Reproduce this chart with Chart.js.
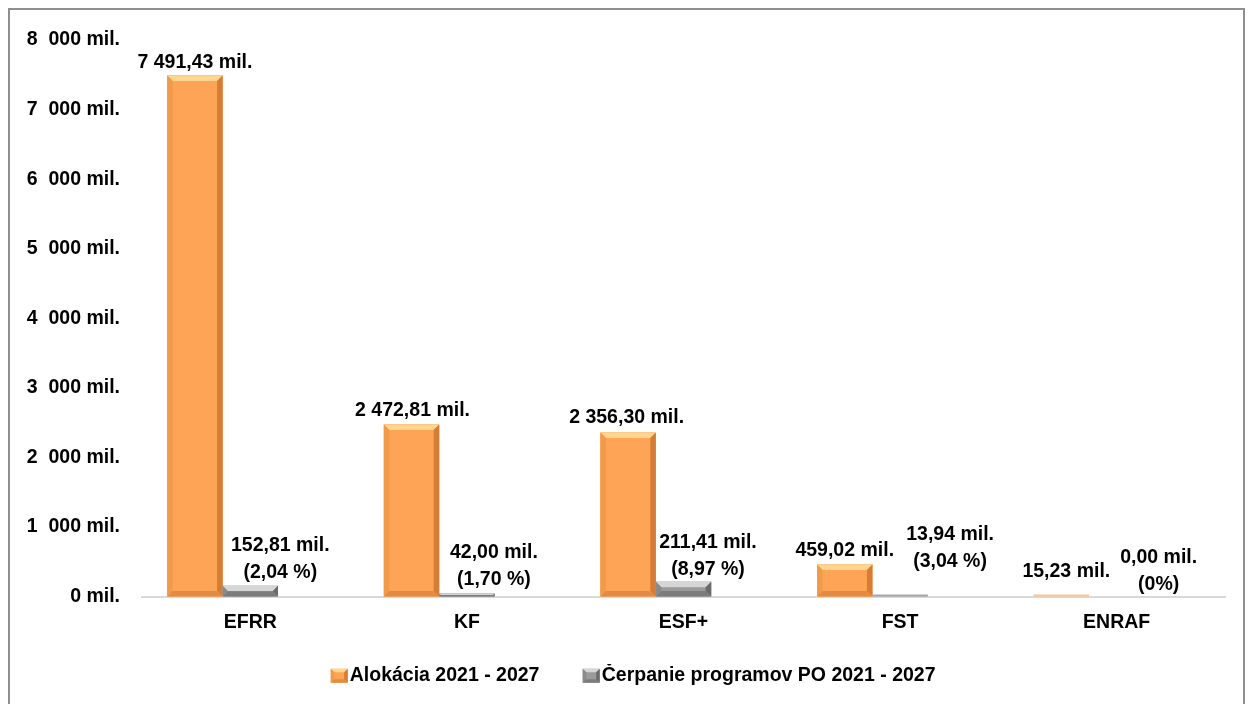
<!DOCTYPE html>
<html><head><meta charset="utf-8">
<script src="https://cdn.jsdelivr.net/npm/chart.js@4"></script>
<style>
html,body{margin:0;padding:0;background:#fff;}
#wrap{position:relative;width:1252px;height:704px;overflow:hidden;}
#frame{position:absolute;left:8px;top:8px;width:1233px;height:760px;border:2px solid #8f8f8f;pointer-events:none;}
canvas{position:absolute;left:0;top:0;}
</style></head><body>
<div id="wrap"><canvas id="c" width="1252" height="704"></canvas><div id="frame"></div></div>
<script>
// ---- data ----
const categories = ['EFRR', 'KF', 'ESF+', 'FST', 'ENRAF'];
const allocation = [7491.43, 2472.81, 2356.30, 459.02, 15.23];
const drawdown = [152.81, 42.00, 211.41, 13.94, 0.00];
const drawdownPct = [2.04, 1.70, 8.97, 3.04, 0];
const seriesNames = ['Alokácia 2021 - 2027', 'Čerpanie programov PO 2021 - 2027'];
const yTickLabels = ['0 mil.', '1  000 mil.', '2  000 mil.', '3  000 mil.', '4  000 mil.', '5  000 mil.', '6  000 mil.', '7  000 mil.', '8  000 mil.'];

// ---- label placement tweaks (style, not data) ----
const allocNudge = [[0,-13],[1,-14],[-1.5,-15],[0,-14],[5,-24]];
const drawNudge = [[30,-13],[27,-14],[24.5,-12],[50,-34],[42,-12]];

function hasFont(name){
  const c = document.createElement('canvas').getContext('2d');
  const t = 'mmmmmwwwwwlliiI 0123456789,.';
  let diff = false;
  for (const base of ['monospace','serif']) {
    c.font = 'bold 40px ' + base; const a = c.measureText(t).width;
    c.font = 'bold 40px "' + name + '", ' + base; const b = c.measureText(t).width;
    if (Math.abs(a-b) > 0.5) diff = true;
  }
  return diff;
}
const narrow = hasFont('Liberation Sans Narrow') ? '"Liberation Sans Narrow"' : (hasFont('Arial Narrow') ? '"Arial Narrow"' : null);
const FF = narrow ? narrow + ', "Liberation Sans", Arial, sans-serif' : '"Liberation Sans", Arial, sans-serif';
const FS = narrow ? 23.5 : 19.5;
const FONT = {family: FF, size: FS, weight: 'bold'};

const palette = {
  orange: {face:'#FDA456', top:'#FFD690', left:'#F29A4B', right:'#D57C36', bottom:'#E38B42'},
  gray:   {face:'#9A9A9A', top:'#D6D6D6', left:'#8A8A8A', right:'#6A6A6A', bottom:'#7C7C7C'}
};

function fmtNum(v){
  const s = v.toFixed(2).split('.');
  const int = s[0].replace(/\B(?=(\d{3})+(?!\d))/g, ' ');
  return int + ',' + s[1];
}

function bevel(ctx, L, T, R, B, col){
  const w = R - L, h = B - T;
  if (h < 1 || w < 1) return;
  const b = Math.min(5.5, h/2, w/2);
  ctx.save();
  const poly = (pts, c) => { ctx.beginPath(); ctx.moveTo(pts[0][0], pts[0][1]); for (let i=1;i<pts.length;i++) ctx.lineTo(pts[i][0], pts[i][1]); ctx.closePath(); ctx.fillStyle = c; ctx.fill(); };
  ctx.fillStyle = col.face; ctx.fillRect(L, T, w, h);
  poly([[L,T],[R,T],[R-b,T+b],[L+b,T+b]], col.top);
  poly([[L,T],[L+b,T+b],[L+b,B-b],[L,B]], col.left);
  poly([[R,T],[R,B],[R-b,B-b],[R-b,T+b]], col.right);
  poly([[L,B],[L+b,B-b],[R-b,B-b],[R,B]], col.bottom);
  ctx.restore();
}

const bevelPlugin = {
  id: 'bevel',
  afterDatasetsDraw(chart){
    const ctx = chart.ctx;
    [0,1].forEach(di => {
      const meta = chart.getDatasetMeta(di);
      const col = di === 0 ? palette.orange : palette.gray;
      meta.data.forEach(el => {
        const p = el.getProps(['x','y','base','width'], true);
        const L = p.x - p.width/2, R = p.x + p.width/2;
        const T = Math.min(p.y, p.base), B = Math.max(p.y, p.base);
        if (B - T < 1.5) {
          if (B - T > 0.2) { ctx.fillStyle = di === 0 ? '#F6C79C' : '#A8A8A8'; ctx.fillRect(L, B - 2, R - L, 2); }
          return;
        }
        bevel(ctx, L, T, R, B, col);
      });
    });
    // data labels
    ctx.save();
    ctx.font = 'bold ' + FS + 'px ' + FF;
    ctx.fillStyle = '#000';
    ctx.textAlign = 'center';
    ctx.textBaseline = 'middle';
    const m0 = chart.getDatasetMeta(0), m1 = chart.getDatasetMeta(1);
    m0.data.forEach((el, i) => {
      const p = el.getProps(['x','y'], true);
      ctx.fillText(fmtNum(allocation[i]) + ' mil.', p.x + allocNudge[i][0], p.y + allocNudge[i][1]);
    });
    m1.data.forEach((el, i) => {
      const p = el.getProps(['x','y'], true);
      const x = p.x + drawNudge[i][0], y2 = p.y + drawNudge[i][1];
      const pct = drawdownPct[i] === 0 ? '(0%)' : '(' + drawdownPct[i].toFixed(2).replace('.', ',') + ' %)';
      ctx.fillText(fmtNum(drawdown[i]) + ' mil.', x, y2 - 27);
      ctx.fillText(pct, x, y2);
    });
    ctx.restore();
  },
  afterDraw(chart){
    // legend markers drawn right before legend text
    const lg = chart.legend;
    if (!lg || !lg.legendHitBoxes) return;
    const boxW = lg.options.labels.boxWidth;
    lg.legendHitBoxes.forEach((hb, i) => {
      const textX = hb.left + boxW + FS/2;
      const cy = hb.top + hb.height/2;
      const col = i === 0 ? palette.orange : palette.gray;
      const L = textX - 19, R = textX - 2, T = cy - 7, B = cy + 7;
      const ctx = chart.ctx;
      ctx.save();
      ctx.fillStyle = col.face; ctx.fillRect(L, T, R-L, B-T);
      const b = 3.5;
      const poly = (pts, c) => { ctx.beginPath(); ctx.moveTo(pts[0][0], pts[0][1]); for (let k=1;k<pts.length;k++) ctx.lineTo(pts[k][0], pts[k][1]); ctx.closePath(); ctx.fillStyle = c; ctx.fill(); };
      poly([[L,T],[R,T],[R-b,T+b],[L+b,T+b]], col.top);
      poly([[L,T],[L+b,T+b],[L+b,B-b],[L,B]], col.left);
      poly([[R,T],[R,B],[R-b,B-b],[R-b,T+b]], col.right);
      poly([[L,B],[L+b,B-b],[R-b,B-b],[R,B]], col.bottom);
      ctx.restore();
    });
  }
};

Chart.defaults.font.family = FF;
Chart.defaults.font.size = FS;
Chart.defaults.font.weight = 'bold';
Chart.defaults.color = '#000';

new Chart(document.getElementById('c'), {
  type: 'bar',
  data: {
    labels: categories,
    datasets: [
      {label: seriesNames[0], data: allocation, backgroundColor: palette.orange.face, borderWidth: 0},
      {label: seriesNames[1], data: drawdown, backgroundColor: palette.gray.face, borderWidth: 0},
      {label: '', data: categories.map(() => null), backgroundColor: 'rgba(0,0,0,0)', borderWidth: 0}
    ]
  },
  options: {
    responsive: false,
    animation: false,
    devicePixelRatio: 1,
    categoryPercentage: 0.767,
    barPercentage: 1,
    layout: {padding: {top: 40, right: 27, bottom: 8.5, left: 0}},
    plugins: {
      tooltip: {enabled: false},
      legend: {
        position: 'bottom',
        align: 'center',
        labels: {
          font: FONT,
          color: '#000',
          boxWidth: 50.5,
          boxHeight: 14,
          padding: 2,
          filter: (item) => item.datasetIndex < 2,
          generateLabels: (chart) => Chart.defaults.plugins.legend.labels.generateLabels(chart).map(it => Object.assign(it, {fillStyle: 'rgba(0,0,0,0)', strokeStyle: 'rgba(0,0,0,0)', lineWidth: 0}))
        }
      }
    },
    scales: {
      x: {
        grid: {display: false, drawTicks: false},
        border: {display: true, color: '#D9D9D9', width: 2},
        ticks: {font: FONT, color: '#000', padding: 14, maxRotation: 0, autoSkip: false},
        afterFit: (s) => { s.height = 67.5; }
      },
      y: {
        min: 0, max: 8000,
        grid: {display: false, drawTicks: false},
        border: {display: false},
        ticks: {stepSize: 1000, font: FONT, color: '#000', padding: 22, callback: (v, i) => yTickLabels[i]},
        afterFit: (s) => { s.width = 142; }
      }
    }
  },
  plugins: [bevelPlugin]
});
</script>
</body></html>
